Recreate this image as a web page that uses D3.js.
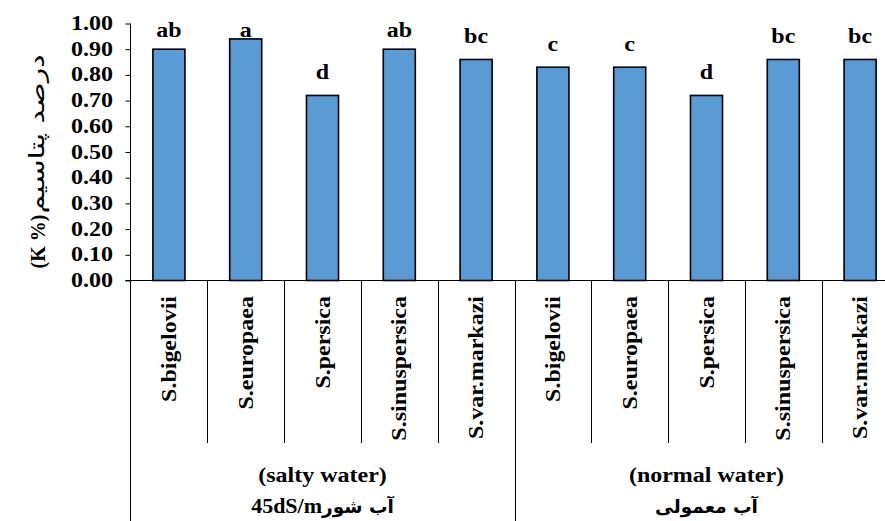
<!DOCTYPE html>
<html>
<head>
<meta charset="utf-8">
<script src="https://cdn.jsdelivr.net/npm/d3@7"></script>
<style>
  html, body { margin: 0; padding: 0; background: #fff; }
  svg { display: block; }
</style>
</head>
<body>
<svg id="chart" width="885" height="521"></svg>
<script>
// Species on the category axis, repeated for each water treatment
const species = ["S.bigelovii", "S.europaea", "S.persica", "S.sinuspersica", "S.var.markazi"];
const groups = ["salty", "normal"];
const groupLine1 = ["(salty water)", "(normal water)"];
const groupLine2Latin = ["45dS/m", ""];
const groupLine2Persian = ["آب شور", "آب معمولی"];

// Potassium percentage per species, salty water then normal water
const saltyValues = [0.90, 0.94, 0.72, 0.90, 0.86];
const normalValues = [0.83, 0.83, 0.72, 0.86, 0.86];

// Mean-comparison letters above each bar
const saltyLetters = ["ab", "a", "d", "ab", "bc"];
const normalLetters = ["c", "c", "d", "bc", "bc"];

const yTicks = [0, 0.1, 0.2, 0.3, 0.4, 0.5, 0.6, 0.7, 0.8, 0.9, 1.0];
const yTitlePersian = "درصد پتاسیم";
const yTitleLatin = "(K %)";

const rows = [];
groups.forEach((g, gi) => {
  const vals = gi === 0 ? saltyValues : normalValues;
  const lets = gi === 0 ? saltyLetters : normalLetters;
  species.forEach((s, si) => {
    rows.push({ key: g + "|" + s, group: g, species: s, value: vals[si], letter: lets[si] });
  });
});

const svg = d3.select("#chart");
const SERIF = "'Liberation Serif', 'Times New Roman', serif";
const PERSIAN = "'DejaVu Sans', sans-serif";
const WIDEN = 1.2; // horizontal widening of the bold serif lettering

const plotLeft = 130.5, plotRight = 898.5, plotTop = 23.5, plotBase = 280.5;
const catBottom = 443, groupBottom = 521;

const xSlot = d3.scaleBand().domain(rows.map(d => d.key)).range([plotLeft, plotRight]).padding(0);
const xBar = d3.scaleBand().domain(rows.map(d => d.key)).range([plotLeft, plotRight])
  .paddingInner(0.583).paddingOuter(0.2915);
const y = d3.scaleLinear().domain([0, 1]).range([plotBase, plotTop]);

function label(parent, x, yy, rot, str, size, anchor) {
  return parent.append("text")
    .attr("transform", `translate(${x},${yy}) rotate(${rot}) scale(${WIDEN},1)`)
    .attr("text-anchor", anchor)
    .attr("font-family", SERIF)
    .attr("font-weight", "bold")
    .attr("font-size", size)
    .attr("fill", "#000")
    .text(str);
}

// Y axis
const yAxis = d3.axisLeft(y).tickValues(yTicks).tickSize(5).tickFormat("");
const ya = svg.append("g").attr("transform", `translate(${plotLeft},0)`).call(yAxis);
ya.select(".domain").remove();
ya.selectAll(".tick line").attr("stroke", "#000").attr("stroke-width", 1);
yTicks.forEach(t => label(svg, 113, y(t) + 6.5, 0, d3.format(".2f")(t), 20, "end"));

svg.append("line").attr("x1", plotLeft).attr("x2", plotLeft).attr("y1", plotTop).attr("y2", groupBottom)
  .attr("stroke", "#000").attr("stroke-width", 1);

// Bars
svg.append("g").selectAll("rect").data(rows).join("rect")
  .attr("x", d => xBar(d.key))
  .attr("width", xBar.bandwidth())
  .attr("y", d => y(d.value))
  .attr("height", d => plotBase - y(d.value))
  .attr("fill", "#5B9BD5")
  .attr("stroke", "#000")
  .attr("stroke-width", 1.6);

// Letters, kept inside the top of the plot area
rows.forEach(d => {
  const cx = xSlot(d.key) + xSlot.bandwidth() / 2;
  const yy = Math.max(y(d.value) - 16, 36.5);
  label(svg, cx, yy, 0, d.letter, 20, "middle");
});

// Category axis line
svg.append("line").attr("x1", plotLeft - 5).attr("x2", 885).attr("y1", plotBase).attr("y2", plotBase)
  .attr("stroke", "#000").attr("stroke-width", 1);

// Separators between categories and between the two treatments
rows.forEach((d, i) => {
  if (i === 0) return;
  const xx = Math.round(xSlot(d.key)) + 0.5;
  const bottom = (i % species.length === 0) ? groupBottom : catBottom;
  svg.append("line").attr("x1", xx).attr("x2", xx).attr("y1", plotBase).attr("y2", bottom)
    .attr("stroke", "#000").attr("stroke-width", 1);
});

// Species names
rows.forEach(d => {
  const cx = xSlot(d.key) + xSlot.bandwidth() / 2;
  label(svg, cx + 7, 296, -90, d.species, 20, "end");
});

// Treatment labels
groups.forEach((g, gi) => {
  const first = xSlot(g + "|" + species[0]);
  const last = xSlot(g + "|" + species[species.length - 1]) + xSlot.bandwidth();
  const cx = (first + last) / 2;
  label(svg, cx, 482, 0, groupLine1[gi], 20, "middle");
  const t = svg.append("text")
    .attr("transform", `translate(${cx},513)`)
    .attr("text-anchor", "middle")
    .attr("fill", "#000");
  if (groupLine2Latin[gi]) {
    t.append("tspan").attr("font-family", SERIF).attr("font-weight", "bold")
      .attr("font-size", 22).text(groupLine2Latin[gi]);
  }
  t.append("tspan").attr("font-family", PERSIAN).attr("font-weight", "bold")
    .attr("font-size", 18.5).text(groupLine2Persian[gi]);
});

// Y axis title: Latin unit at the bottom, Persian words above it
svg.append("text")
  .attr("transform", `translate(45,241.5) rotate(-90)`)
  .attr("text-anchor", "middle")
  .attr("font-family", SERIF).attr("font-weight", "bold").attr("font-size", 20)
  .attr("fill", "#000")
  .text(yTitleLatin);
svg.append("text")
  .attr("transform", `translate(44,134) rotate(-90) scale(1.2,0.85)`)
  .attr("text-anchor", "middle")
  .attr("font-family", PERSIAN).attr("font-size", 25)
  .attr("fill", "#000")
  .text(yTitlePersian);
</script>
</body>
</html>
